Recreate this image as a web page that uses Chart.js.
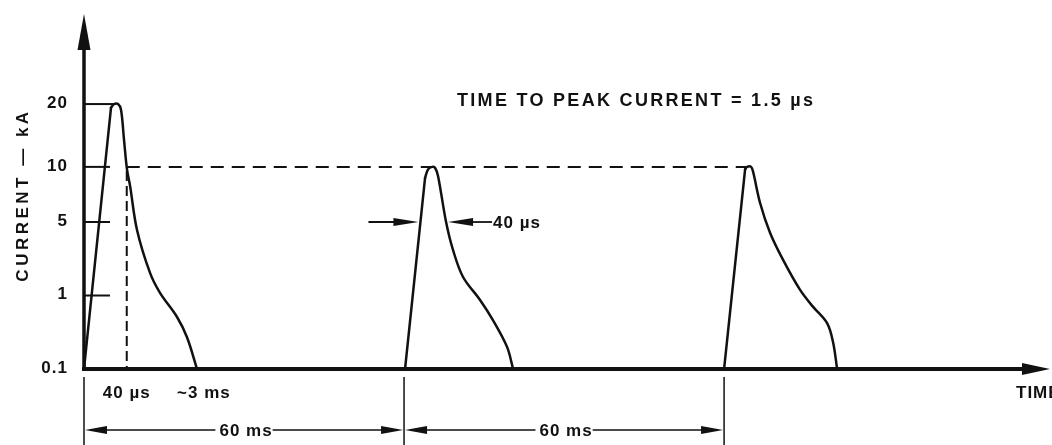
<!DOCTYPE html>
<html>
<head>
<meta charset="utf-8">
<script src="https://cdn.jsdelivr.net/npm/chart.js@4.4.0/dist/chart.umd.min.js"></script>
<style>
  html, body { margin: 0; padding: 0; background: #fff; }
  canvas { display: block; }
</style>
</head>
<body>
<canvas id="pulseChart" width="1052" height="445"></canvas>
<script>
// current levels on the vertical axis and their spacing (axis steps, not to scale)
const levelsKA = [0.1, 1, 5, 10, 20];
const levelSteps = [0, 1, 2, 2.75, 3.605];
const levelLabels = ['0.1', '1', '5', '10', '20'];

// pulse outlines: time along the schematic axis (ms) and current (kA)
const pulse1Time = [0, 5.06, 5.63, 6.38, 6.94, 7.5, 8.06, 8.63, 9.94, 12.38, 14.25, 17.44, 19.31, 21.19];
const pulse1Current = [0.1, 19.2, 20, 20, 18.8, 13.5, 9.7, 7.9, 4.2, 1.64, 1.06, 0.51, 0.27, 0.1];

const pulse2Time = [60.19, 63.94, 64.5, 65.25, 65.81, 66.38, 67.88, 69.19, 71.06, 74.25, 76.69, 79.31, 80.44];
const pulse2Current = [0.1, 8.7, 9.7, 10, 9.9, 8.9, 5, 2.7, 1.5, 0.87, 0.46, 0.2, 0.1];

const pulse3Time = [120, 123.94, 124.31, 125.06, 125.44, 126.75, 128.63, 131.06, 134.25, 136.69, 139.31, 140.44, 141.19];
const pulse3Current = [0.1, 9.7, 10, 10, 9.4, 6.35, 3.93, 2.18, 1.13, 0.70, 0.42, 0.23, 0.1];

const pulseStarts = [0, 60, 120];
const periodText = '60 ms';
const widthText = '40 \u00b5s';
const decayText = '~3 ms';
const titleText = 'TIME TO PEAK CURRENT = 1.5 \u00b5s';

const FONT = '"Liberation Sans", Arial, sans-serif';
const LABEL_FONT = 'bold 17px ' + FONT;
const INK = '#111';

// place a current on the stepped axis, log-interpolated between marked levels
function kaToStep(ka) {
    let i = 0;
    while (i < levelsKA.length - 2 && ka > levelsKA[i + 1]) i++;
    const a = levelsKA[i], b = levelsKA[i + 1];
    const f = Math.log(ka / a) / Math.log(b / a);
    return levelSteps[i] + f * (levelSteps[i + 1] - levelSteps[i]);
}

// time where a pulse first climbs to / last falls through a level
function riseTime(times, cur, level) {
    for (let i = 0; i < times.length - 1; i++) {
        if (cur[i] <= level && cur[i + 1] >= level) {
            const s0 = kaToStep(cur[i]), s1 = kaToStep(cur[i + 1]), s = kaToStep(level);
            return times[i] + (s - s0) / (s1 - s0 || 1) * (times[i + 1] - times[i]);
        }
    }
    return times[0];
}
function fallTime(times, cur, level) {
    for (let i = times.length - 2; i >= 0; i--) {
        if (cur[i] >= level && cur[i + 1] <= level) {
            const s0 = kaToStep(cur[i]), s1 = kaToStep(cur[i + 1]), s = kaToStep(level);
            return times[i] + (s - s0) / (s1 - s0 || 1) * (times[i + 1] - times[i]);
        }
    }
    return times[times.length - 1];
}

const pulses = [
    [pulse1Time, pulse1Current],
    [pulse2Time, pulse2Current],
    [pulse3Time, pulse3Current]
];

// each pulse: a straight front edge and a smoothed crest + tail
const datasets = [];
pulses.forEach(([t, c]) => {
    const pts = t.map((v, i) => ({ x: v, y: kaToStep(c[i]) }));
    datasets.push({ data: pts.slice(0, 2), tension: 0 });
    datasets.push({ data: pts.slice(1), tension: 0.35 });
});

function arrowHead(ctx, x, y, dir, len, half) {
    ctx.beginPath();
    ctx.moveTo(x, y);
    if (dir === 'right') { ctx.lineTo(x - len, y - half); ctx.lineTo(x - len, y + half); }
    else if (dir === 'left') { ctx.lineTo(x + len, y - half); ctx.lineTo(x + len, y + half); }
    else { ctx.lineTo(x - half, y + len); ctx.lineTo(x + half, y + len); }
    ctx.closePath();
    ctx.fill();
}

function line(ctx, x1, y1, x2, y2, w, dash) {
    ctx.save();
    ctx.lineWidth = w;
    ctx.setLineDash(dash || []);
    ctx.beginPath();
    ctx.moveTo(x1, y1);
    ctx.lineTo(x2, y2);
    ctx.stroke();
    ctx.restore();
}

const diagram = {
    id: 'diagram',
    beforeDraw(chart) {
        const { ctx, width, height } = chart;
        ctx.save();
        ctx.fillStyle = '#fff';
        ctx.fillRect(0, 0, width, height);
        ctx.restore();
    },
    afterDatasetsDraw(chart) {
        const { ctx, chartArea } = chart;
        const xs = chart.scales.x, ys = chart.scales.y;
        const X = t => xs.getPixelForValue(t);
        const Y = ka => ys.getPixelForValue(kaToStep(ka));
        const x0 = X(0), y0 = Y(levelsKA[0]);

        ctx.save();
        ctx.strokeStyle = INK;
        ctx.fillStyle = INK;
        ctx.lineCap = 'butt';

        // axes with arrow heads
        line(ctx, x0, y0 + 2, x0, chartArea.top + 30, 3.5);
        arrowHead(ctx, x0, chartArea.top - 4, 'up', 36, 6.5);
        line(ctx, x0 - 2, y0, chartArea.right - 24, y0, 4);
        arrowHead(ctx, chartArea.right, y0, 'right', 28, 6);

        // level ticks and labels
        ctx.font = LABEL_FONT;
        ctx.letterSpacing = '1px';
        ctx.textAlign = 'right';
        ctx.textBaseline = 'middle';
        levelsKA.forEach((ka, i) => {
            const y = Y(ka);
            ctx.fillText(levelLabels[i], x0 - 16, y - 1);
            if (i > 0 && i < levelsKA.length - 1) line(ctx, x0, y, x0 + 26, y, 2);
        });
        // 20 kA line out to the first crest
        const top = levelsKA[levelsKA.length - 1];
        line(ctx, x0, Y(top), X(riseTime(pulse1Time, pulse1Current, top)), Y(top), 2);

        // 10 kA reference: dashed across to the third crest, and down from the first tail
        const tFall10 = fallTime(pulse1Time, pulse1Current, 10);
        const tPeak3 = riseTime(pulse3Time, pulse3Current, 10);
        line(ctx, X(tFall10), Y(10), X(tPeak3), Y(10), 2, [13, 8]);
        line(ctx, X(tFall10), Y(10) + 4, X(tFall10), y0, 2, [10, 5]);

        // 40 us width marker at 5 kA on the second pulse
        const yW = Y(5);
        const left = X(riseTime(pulse2Time, pulse2Current, 5));
        const right = X(fallTime(pulse2Time, pulse2Current, 5));
        line(ctx, left - 52, yW, left - 20, yW, 1.8);
        arrowHead(ctx, left - 2, yW, 'right', 25, 4);
        line(ctx, right + 20, yW, right + 46, yW, 1.8);
        arrowHead(ctx, right + 2, yW, 'left', 25, 4);
        ctx.textAlign = 'left';
        ctx.fillText(widthText, right + 47, yW + 1);

        // extension lines below the time axis at each pulse start
        pulseStarts.forEach(t => line(ctx, X(t), y0 + 8, X(t), chart.height, 1.5));

        // 60 ms period dimensions
        const yDim = 430;
        ctx.textAlign = 'center';
        const tw = ctx.measureText(periodText).width;
        for (let i = 0; i < pulseStarts.length - 1; i++) {
            const a = X(pulseStarts[i]), b = X(pulseStarts[i + 1]);
            const mid = (a + b) / 2;
            line(ctx, a + 18, yDim, mid - tw / 2 - 2, yDim, 1.5);
            line(ctx, mid + tw / 2 + 2, yDim, b - 18, yDim, 1.5);
            arrowHead(ctx, a + 1, yDim, 'left', 22, 4);
            arrowHead(ctx, b - 1, yDim, 'right', 22, 4);
            ctx.fillText(periodText, mid + 2, yDim + 1);
        }

        // first pulse notes under the axis
        ctx.fillText(widthText, X(tFall10), 393);
        ctx.textAlign = 'left';
        ctx.fillText(decayText, X(pulse1Time[pulse1Time.length - 1]) - 20, 393);
        ctx.fillText('TIME', 1016, 393);

        // heading
        ctx.font = 'bold 18px ' + FONT;
        ctx.letterSpacing = '2.3px';
        ctx.fillText(titleText, 457, 101);

        // vertical axis title
        ctx.save();
        ctx.translate(23, 195);
        ctx.rotate(-Math.PI / 2);
        ctx.textAlign = 'center';
        ctx.font = 'bold 17px ' + FONT;
        ctx.letterSpacing = '3.5px';
        ctx.fillText('CURRENT \u2014 kA', 0, 0);
        ctx.restore();

        ctx.restore();
    }
};

new Chart(document.getElementById('pulseChart'), {
    type: 'line',
    data: { datasets },
    options: {
        responsive: false,
        animation: false,
        devicePixelRatio: 1,
        events: [],
        layout: { padding: { left: 84, right: 2, top: 18, bottom: 76 } },
        scales: {
            x: { type: 'linear', min: 0, max: 181.1, display: false },
            y: { type: 'linear', min: 0, max: 4.776, display: false }
        },
        plugins: { legend: { display: false }, tooltip: { enabled: false } },
        elements: {
            point: { radius: 0 },
            line: { borderColor: INK, borderWidth: 2.5, fill: false, borderCapStyle: 'round', borderJoinStyle: 'round' }
        }
    },
    plugins: [diagram]
});
</script>
</body>
</html>
